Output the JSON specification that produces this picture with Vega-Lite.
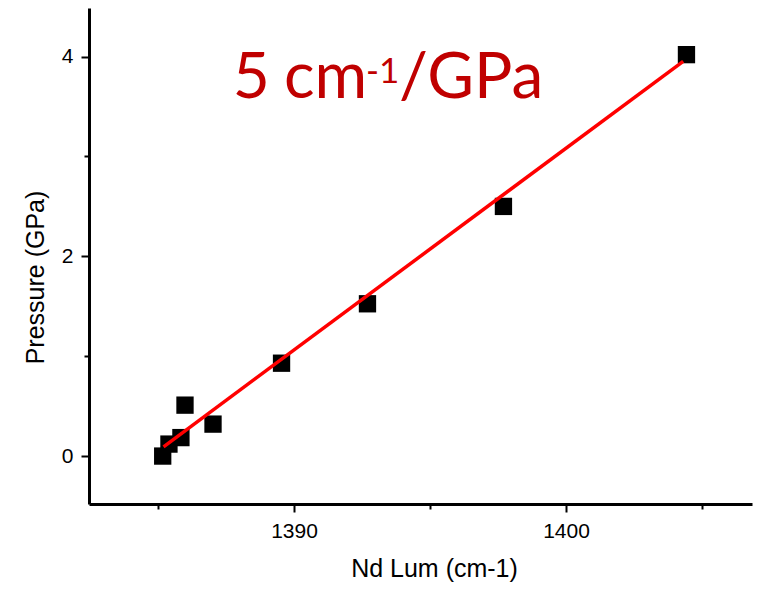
{
  "$schema": "https://vega.github.io/schema/vega-lite/v6.json",
  "width": 663,
  "height": 496,
  "autosize": {"type": "none"},
  "padding": {"left": 89, "top": 8, "right": 24, "bottom": 85},
  "background": "white",
  "config": {
    "view": {"stroke": null},
    "axis": {
      "grid": false,
      "domainColor": "black",
      "domainWidth": 3,
      "tickColor": "black",
      "tickWidth": 2,
      "labelFont": "Liberation Sans",
      "labelFontSize": 21,
      "labelColor": "black",
      "titleFont": "Liberation Sans",
      "titleFontSize": 25,
      "titleFontWeight": "normal",
      "titleColor": "black"
    }
  },
  "datasets": {
    "points": [
      {"lum": 1385.17, "pressure": 0.0},
      {"lum": 1385.40, "pressure": 0.12},
      {"lum": 1385.84, "pressure": 0.185},
      {"lum": 1385.99, "pressure": 0.51},
      {"lum": 1387.02, "pressure": 0.32},
      {"lum": 1389.54, "pressure": 0.93},
      {"lum": 1392.70, "pressure": 1.525},
      {"lum": 1397.70, "pressure": 2.50},
      {"lum": 1404.43, "pressure": 4.02}
    ],
    "fit": [
      {"lum": 1385.2, "pressure": 0.093},
      {"lum": 1404.31, "pressure": 3.953}
    ],
    "one": [{}]
  },
  "layer": [
    {
      "data": {"name": "points"},
      "mark": {"type": "square", "size": 300, "color": "black", "opacity": 1, "filled": true},
      "encoding": {
        "x": {
          "field": "lum", "type": "quantitative",
          "scale": {"domain": [1382.46, 1406.84], "nice": false, "zero": false},
          "axis": {
            "title": "Nd Lum (cm-1)",
            "values": [1385, 1390, 1395, 1400, 1405],
            "format": "d",
            "labelExpr": "datum.value % 10 === 0 ? datum.label : ''",
            "tickSize": {"condition": {"test": "datum.value % 10 === 0", "value": 8}, "value": 5},
            "labelPadding": 8,
            "titleX": 345,
            "titleY": 64,
            "titleBaseline": "middle"
          }
        },
        "y": {
          "field": "pressure", "type": "quantitative",
          "scale": {"domain": [-0.48, 4.487], "nice": false, "zero": false},
          "axis": {
            "title": "Pressure (GPa)",
            "values": [0, 1, 2, 3, 4],
            "format": "d",
            "labelExpr": "datum.value % 2 === 0 ? datum.label : ''",
            "tickSize": {"condition": {"test": "datum.value % 2 === 0", "value": 8}, "value": 5},
            "labelPadding": 8,
            "titleX": -54,
            "titleY": 269,
            "titleBaseline": "middle"
          }
        }
      }
    },
    {
      "data": {"name": "fit"},
      "mark": {"type": "line", "color": "#ff0000", "strokeWidth": 3.5},
      "encoding": {
        "x": {"field": "lum", "type": "quantitative"},
        "y": {"field": "pressure", "type": "quantitative"}
      }
    },
    {
      "data": {"name": "one"},
      "mark": {"type": "text", "font": "Lato", "fontSize": 64, "color": "#c00000", "align": "left", "baseline": "alphabetic"},
      "encoding": {
        "x": {"datum": 1387.75},
        "y": {"datum": 3.59},
        "text": {"value": "5"}
      }
    },
    {
      "data": {"name": "one"},
      "mark": {"type": "text", "font": "Lato", "fontSize": 64, "color": "#c00000", "align": "left", "baseline": "alphabetic"},
      "encoding": {
        "x": {"datum": 1389.63},
        "y": {"datum": 3.59},
        "text": {"value": "cm"}
      }
    },
    {
      "data": {"name": "one"},
      "mark": {"type": "text", "font": "Lato", "fontSize": 35, "color": "#c00000", "align": "left", "baseline": "alphabetic"},
      "encoding": {
        "x": {"datum": 1392.65},
        "y": {"datum": 3.74},
        "text": {"value": "-1"}
      }
    },
    {
      "data": {"name": "one"},
      "mark": {"type": "text", "font": "Lato", "fontSize": 64, "color": "#c00000", "align": "left", "baseline": "alphabetic"},
      "encoding": {
        "x": {"datum": 1393.86},
        "y": {"datum": 3.59},
        "text": {"value": "/GPa"}
      }
    }
  ]
}
